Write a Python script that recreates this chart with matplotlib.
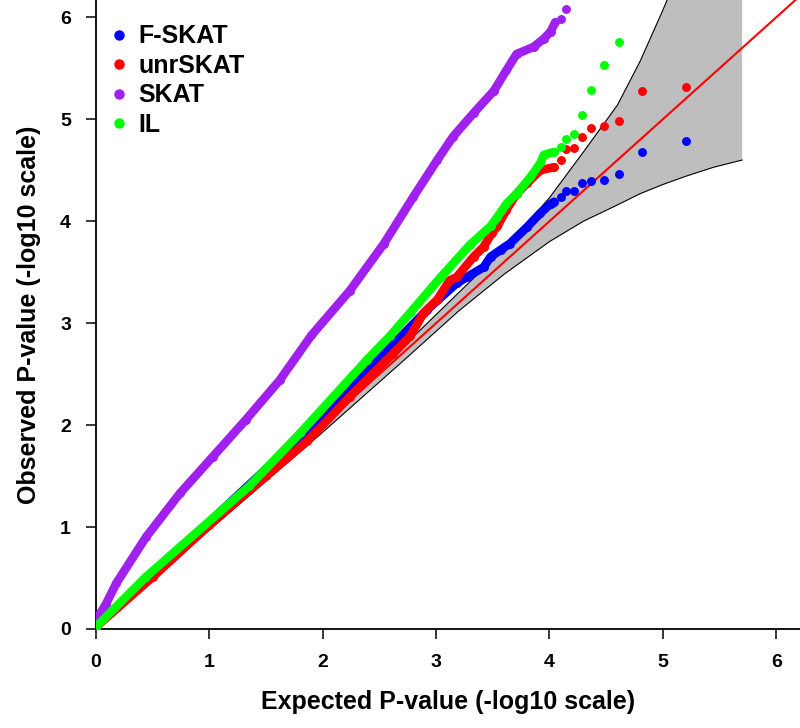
import numpy as np
import matplotlib
matplotlib.use('Agg')
import matplotlib.pyplot as plt
from matplotlib.lines import Line2D

# --- settings ---
OUT_FILE = 'out.png'
AX_MAX = 6.2

plt.rcParams['font.family'] = ['Liberation Sans', 'DejaVu Sans']
plt.rcParams['font.weight'] = 'bold'

# --- data (-log10 scale) ---
SERIES_NAMES = ['F-SKAT', 'unrSKAT', 'SKAT', 'IL']
SERIES_COLORS = ['#0000FF', '#FF0000', '#A020F0', '#00FF00']

# dense part of each curve: expected / observed pairs
fskat_exp = [0.0, 0.5, 1.0, 1.5, 2.09, 2.54, 2.92, 3.18, 3.27, 3.42, 3.48, 3.57, 3.65, 3.80, 3.92, 4.01, 4.04]
fskat_obs = [0.03, 0.53, 1.05, 1.57, 2.18, 2.70, 3.13, 3.39, 3.45, 3.55, 3.65, 3.72, 3.78, 3.94, 4.08, 4.17, 4.19]

unr_exp = [0.0, 0.5, 1.0, 1.5, 1.86, 2.24, 2.62, 2.77, 2.89, 3.01, 3.12, 3.18, 3.33, 3.42, 3.49, 3.54, 3.62, 3.71, 3.80, 3.92, 4.04]
unr_obs = [0.02, 0.51, 1.02, 1.50, 1.84, 2.28, 2.70, 2.87, 3.10, 3.23, 3.42, 3.45, 3.65, 3.75, 3.88, 3.95, 4.11, 4.27, 4.37, 4.50, 4.53]

skat_exp = [0.0, 0.09, 0.18, 0.44, 0.74, 1.03, 1.32, 1.62, 1.90, 2.24, 2.54, 2.80, 3.01, 3.15, 3.33, 3.51, 3.62, 3.71, 3.86, 3.95, 4.01, 4.05]
skat_obs = [0.08, 0.25, 0.45, 0.90, 1.33, 1.69, 2.05, 2.44, 2.88, 3.32, 3.78, 4.24, 4.60, 4.83, 5.06, 5.28, 5.48, 5.64, 5.71, 5.79, 5.86, 5.95]

il_exp = [0.0, 0.44, 1.35, 1.80, 2.39, 2.59, 2.77, 3.04, 3.30, 3.48, 3.54, 3.62, 3.71, 3.83, 3.92, 3.95, 4.04]
il_obs = [0.02, 0.51, 1.40, 1.92, 2.64, 2.87, 3.10, 3.45, 3.77, 3.95, 4.04, 4.17, 4.27, 4.43, 4.57, 4.65, 4.68]

# top-ranked single points (shared expected values), nan = above the plot
tail_exp = [4.10, 4.15, 4.22, 4.29, 4.37, 4.48, 4.61, 4.82, 5.20]
fskat_tail = [4.24, 4.30, 4.30, 4.37, 4.39, 4.40, 4.46, 4.68, 4.79]
unr_tail = [4.60, 4.71, 4.72, 4.83, 4.91, 4.93, 4.98, 5.28, 5.32]
skat_tail = [5.98, 6.08, np.nan, np.nan, np.nan, np.nan, np.nan, np.nan, np.nan]
il_tail = [4.73, 4.81, 4.86, 5.04, 5.29, 5.53, 5.76, np.nan, np.nan]

# 95% confidence band around the null line
band_exp = [0.0, 1.0, 2.0, 2.7, 3.2, 3.6, 4.0, 4.3, 4.6, 4.8, 5.0, 5.2, 5.45, 5.7]
band_upper = [0.0, 1.03, 2.07, 2.76, 3.30, 3.73, 4.23, 4.68, 5.14, 5.57, 6.07, 6.6, 7.3, 8.0]
band_lower = [0.0, 0.97, 1.93, 2.62, 3.12, 3.48, 3.80, 4.00, 4.16, 4.27, 4.36, 4.44, 4.53, 4.60]


def draw_band(ax):
    """gray confidence band with black edges + red null line"""
    ax.fill_between(band_exp, band_lower, band_upper, color='#BEBEBE', lw=0, zorder=1)
    ax.plot(band_exp, band_upper, color='black', lw=0.8, zorder=2)
    ax.plot(band_exp, band_lower, color='black', lw=0.8, zorder=2)
    ax.plot([0, AX_MAX], [0, AX_MAX], color='#FF0000', lw=1.5, zorder=3)


def draw_series(ax):
    dense = [(fskat_exp, fskat_obs), (unr_exp, unr_obs), (skat_exp, skat_obs), (il_exp, il_obs)]
    tails = [fskat_tail, unr_tail, skat_tail, il_tail]
    for i, ((xs, ys), tail) in enumerate(zip(dense, tails)):
        col = SERIES_COLORS[i]
        z = 4 + i
        ax.plot(xs, ys, color=col, lw=6.2, solid_capstyle='round',
                solid_joinstyle='round', zorder=z)
        ax.plot(xs, ys, 'o', color=col, ms=5.4, zorder=z)
        ax.plot(tail_exp, tail, 'o', color=col, ms=5.4, zorder=z)


def main():
    fig = plt.figure(figsize=(8, 7.28), dpi=100)
    ax = fig.add_axes([0.12, 0.136, 0.88, 0.864])

    draw_band(ax)
    draw_series(ax)

    ax.set_xlim(0, 6.21)
    ax.set_ylim(0, 6.17)
    ax.spines['top'].set_visible(False)
    ax.spines['right'].set_visible(False)
    ax.spines['left'].set_linewidth(1.3)
    ax.spines['bottom'].set_linewidth(1.3)
    ax.set_xticks(range(7))
    ax.set_yticks(range(7))
    ax.tick_params(length=7, width=1.1, labelsize=14, pad=11)

    ax.set_xlabel('Expected P-value (-log10 scale)', fontsize=18, fontweight='bold', labelpad=14)
    ax.set_ylabel('Observed P-value (-log10 scale)', fontsize=18, fontweight='bold', labelpad=14)

    handles = [Line2D([], [], ls='none', marker='o', color=c, ms=6.5) for c in SERIES_COLORS]
    ax.legend(handles, SERIES_NAMES, loc='upper left', bbox_to_anchor=(0.0, 0.977),
              frameon=False, handlelength=1.0, handletextpad=0.3,
              labelspacing=0.22, borderaxespad=0.0, prop={'weight': 'bold', 'size': 18})

    fig.savefig(OUT_FILE, dpi=100)
    plt.close(fig)


if __name__ == '__main__':
    main()
